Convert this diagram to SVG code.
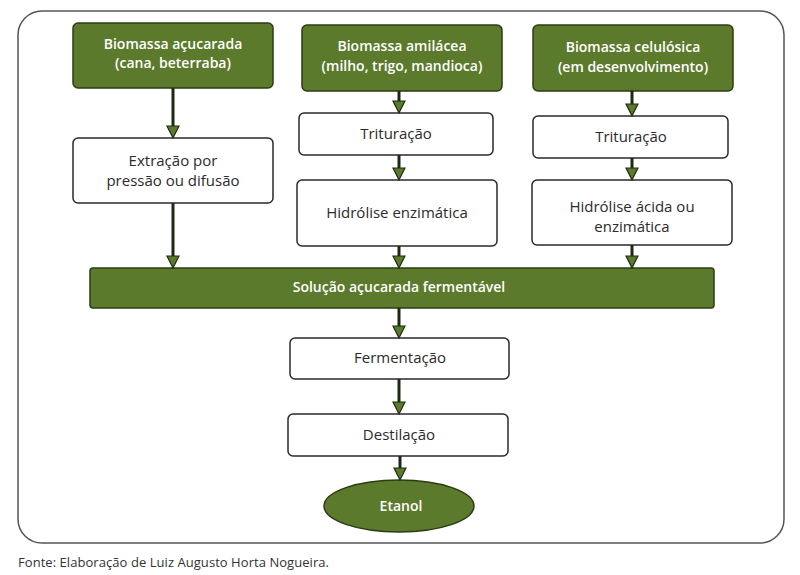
<svg xmlns="http://www.w3.org/2000/svg" width="800" height="575" viewBox="0 0 800 575">
<style>
.g{fill:#5b7a2b;stroke:#2c3d14;stroke-width:1.5}
.w{fill:#ffffff;stroke:#2a2a2a;stroke-width:1.5}
.tw{font-family:"Open Sans","Liberation Sans",sans-serif;font-size:14px;fill:#ffffff;text-anchor:middle;font-weight:600}
.tb{font-family:"Open Sans","Liberation Sans",sans-serif;font-size:15px;fill:#2b2b2b;text-anchor:middle}
.c line{stroke:#1e2a10;stroke-width:3;marker-end:url(#ah)}
</style>
<defs>
<marker id="ah" markerUnits="userSpaceOnUse" markerWidth="14" markerHeight="14" refX="0.5" refY="6.5" orient="auto" viewBox="0 0 14 13" overflow="visible">
<path d="M0.5,0.5 L12.5,6.5 L0.5,12.5 z" fill="#5b7a2b" stroke="#1e2a10" stroke-width="1.2"/>
</marker>
</defs>
<rect width="800" height="575" fill="#ffffff"/>
<rect id="frame" x="18" y="11" width="766" height="532" rx="24" fill="none" stroke="#555555" stroke-width="1.5"/>
<g id="n1"><rect class="g" x="73" y="23" width="200" height="65" rx="5"/><text class="tw" x="173" y="49">Biomassa açucarada</text><text class="tw" x="173" y="68">(cana, beterraba)</text></g>
<g id="n2"><rect class="g" x="302" y="25" width="200" height="66" rx="5"/><text class="tw" x="402" y="51">Biomassa amilácea</text><text class="tw" x="402" y="71">(milho, trigo, mandioca)</text></g>
<g id="n3"><rect class="g" x="533" y="25" width="200" height="66" rx="5"/><text class="tw" x="633" y="52">Biomassa celulósica</text><text class="tw" x="633" y="72">(em desenvolvimento)</text></g>
<g id="n4"><rect class="w" x="73" y="138" width="200" height="65" rx="5"/><text class="tb" x="173" y="166">Extração por</text><text class="tb" x="173" y="186">pressão ou difusão</text></g>
<g id="n5"><rect class="w" x="299" y="113" width="194" height="42" rx="5"/><text class="tb" x="396" y="139">Trituração</text></g>
<g id="n6"><rect class="w" x="297" y="180" width="200" height="66" rx="5"/><text class="tb" x="397" y="218">Hidrólise enzimática</text></g>
<g id="n7"><rect class="w" x="533" y="116" width="195" height="42" rx="5"/><text class="tb" x="631" y="142">Trituração</text></g>
<g id="n8"><rect class="w" x="532" y="180" width="200" height="65" rx="5"/><text class="tb" x="632" y="212">Hidrólise ácida ou</text><text class="tb" x="632" y="232">enzimática</text></g>
<g id="n9"><rect class="g" x="90" y="268" width="624" height="40" rx="3"/><text class="tw" x="399" y="292">Solução açucarada fermentável</text></g>
<g id="n10"><rect class="w" x="290" y="338" width="219" height="41" rx="5"/><text class="tb" x="400" y="363">Fermentação</text></g>
<g id="n11"><rect class="w" x="288" y="414" width="220" height="42" rx="5"/><text class="tb" x="399" y="440">Destilação</text></g>
<g id="n12"><ellipse class="g" cx="399" cy="506" rx="75" ry="26"/><text class="tw" x="401" y="511">Etanol</text></g>
<g id="connectors" class="c">
<line x1="173" y1="88" x2="173" y2="126"/>
<line x1="173" y1="203" x2="173" y2="256"/>
<line x1="399" y1="91" x2="399" y2="101"/>
<line x1="399" y1="155" x2="399" y2="168"/>
<line x1="399" y1="246" x2="399" y2="256"/>
<line x1="632" y1="91" x2="632" y2="104"/>
<line x1="632" y1="158" x2="632" y2="168"/>
<line x1="632" y1="245" x2="632" y2="256"/>
<line x1="399" y1="308" x2="399" y2="326"/>
<line x1="399" y1="379" x2="399" y2="402"/>
<line x1="400" y1="456" x2="400" y2="468"/>
</g>
<text id="footer" x="18" y="567" font-family="Open Sans, Liberation Sans, sans-serif" font-size="13" fill="#333333" textLength="311">Fonte: Elaboração de Luiz Augusto Horta Nogueira.</text>
</svg>
